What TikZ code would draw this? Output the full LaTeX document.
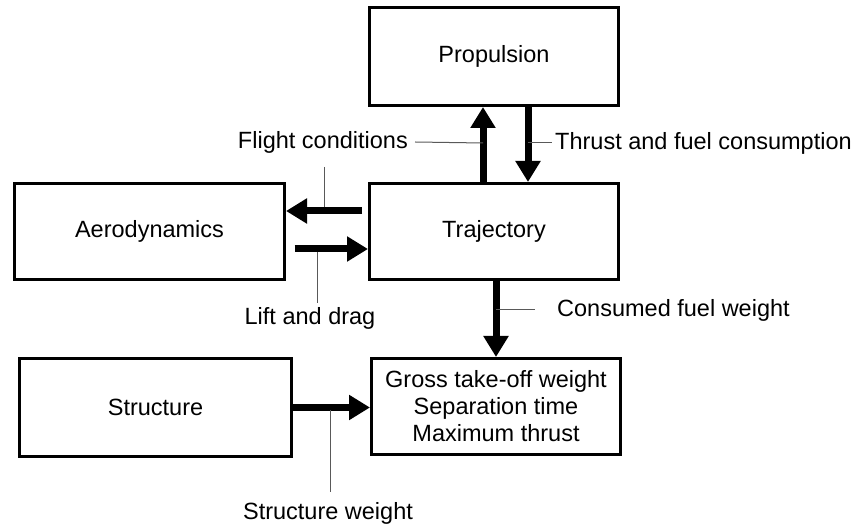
\documentclass[tikz,border=0pt]{standalone}
\usepackage{fontspec}
\setmainfont{Liberation Sans}
\usetikzlibrary{arrows.meta,positioning}
\tikzset{
  block/.style={draw, line width=3pt, minimum height=98pt, inner sep=0pt,
    align=center, font=\fontsize{23.5}{27}\selectfont},
  flow/.style={line width=7pt, -{Triangle[width=24pt,length=21pt]}},
  lead/.style={draw=black!65, line width=1pt},
  lbl/.style={inner sep=0pt, font=\fontsize{23.5}{27}\selectfont}
}

\begin{document}
\begin{tikzpicture}[x=1pt,y=-1pt]
  \useasboundingbox (0,0) rectangle (860,526);
  \node[block, minimum width=249pt] (prop) at (494,56.5) {Propulsion};
  \node[block, minimum width=249pt, minimum height=96pt] (traj) at (494,231.5) {Trajectory};
  \node[block, minimum width=270pt, minimum height=96pt] (aero) at (149.5,231.5) {Aerodynamics};
  \node[block, minimum width=272pt] (struc) at (155.5,407.5) {Structure};
  \node[block, minimum width=249pt, minimum height=96pt] (gtow) at (496,406.5) {Gross take-off weight\\Separation time\\Maximum thrust};

  \path[flow] ([xshift=-11pt]traj.north) edge ([xshift=-11pt]prop.south)
    ([xshift=34pt]prop.south) edge ([xshift=34pt]traj.north)
    ([xshift=-6pt,yshift=20.5pt]traj.west) edge ([yshift=20.5pt]aero.east)
    ([xshift=8.5pt,yshift=-17.5pt]aero.east) edge ([yshift=-17.5pt]traj.west)
    (gtow.north |- traj.south) edge (gtow.north)
    (struc.east) edge (struc.east -| gtow.west);

  \node[lbl, anchor=east] (fc) at (408,142) {Flight conditions};
  \node[lbl, anchor=west] (tfc) at (555,143) {Thrust and fuel consumption};
  \node[lbl] (ld) at (310,318) {Lift and drag};
  \node[lbl, anchor=west] (cfw) at (557,310) {Consumed fuel weight};
  \node[lbl] (sw) at (328,513) {Structure weight};

  \coordinate (fcup) at (483,143);
  \coordinate (fctop) at (324,167);
  \coordinate (fcleft) at (324,207);
  \coordinate (tfcdown) at (528,143);
  \coordinate (ldright) at (317,252);
  \coordinate (ldbot) at (317,303);
  \coordinate (cfwdown) at (496,310);
  \coordinate (cfwend) at (535,310);
  \coordinate (swright) at (330,410);
  \coordinate (swbot) at (330,492);
  \draw[lead] ([xshift=7pt]fc.east) -- (fcup);
  \draw[lead] (fctop) -- (fcleft);
  \draw[lead] (tfcdown) -- ([xshift=-3pt]tfc.west);
  \draw[lead] (ldright) -- (ldbot);
  \draw[lead] (cfwdown) -- (cfwend);
  \draw[lead] (swright) -- (swbot);
  %\draw[lead] (ld) -- (sw);
\end{tikzpicture}
\end{document}
